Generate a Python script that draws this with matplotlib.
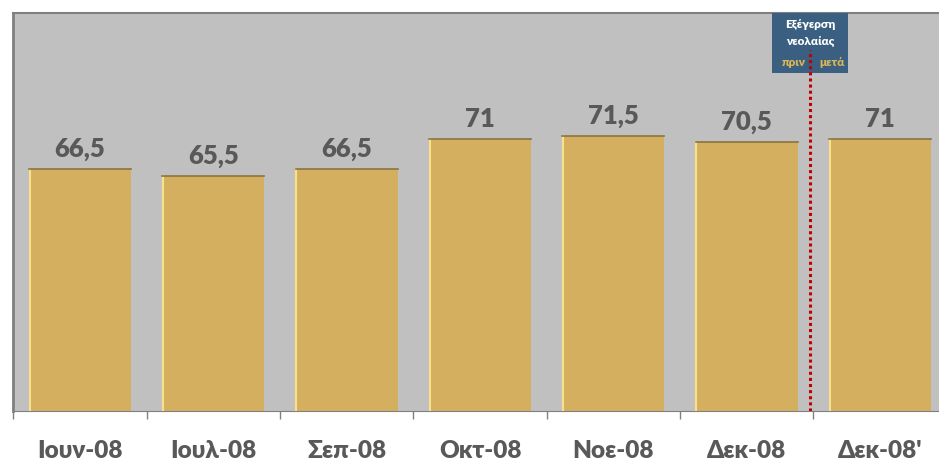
import matplotlib
matplotlib.use("Agg")
import matplotlib.pyplot as plt
from matplotlib.patches import Rectangle

categories = ["Ιουν-08", "Ιουλ-08", "Σεπ-08", "Οκτ-08", "Νοε-08", "Δεκ-08", "Δεκ-08'"]
values = [66.5, 65.5, 66.5, 71, 71.5, 70.5, 71]
value_labels = ["66,5", "65,5", "66,5", "71", "71,5", "70,5", "71"]

plt.rcParams['font.family'] = ['Lato', 'DejaVu Sans']

W, H = 939, 466
fig = plt.figure(figsize=(W / 100, H / 100), dpi=100)
ax = fig.add_axes([13.3 / W, 55 / H, (946.7 - 13.3) / W, (411 - 13) / H])
ax.set_facecolor('#C0C0C0')

x = list(range(len(categories)))
bars = ax.bar(x, values, width=0.765, color='#D4AF5F', edgecolor='none', zorder=2)
for b in bars:
    ax.plot([b.get_x() + 0.005, b.get_x() + 0.005], [30, b.get_height()],
            color='#FBE08A', lw=1.5, zorder=3)
    ax.plot([b.get_x(), b.get_x() + b.get_width()], [b.get_height()] * 2,
            color='#8A7440', lw=1.2, zorder=3)

for xi, v, lab in zip(x, values, value_labels):
    ax.text(xi, v + 1.2, lab, ha='center', va='bottom', fontsize=18.5,
            fontweight='heavy', color='#595959')

ax.set_ylim(30, 90)
ax.set_xlim(-0.5, len(categories) - 0.5)
ax.set_yticks([])
ax.set_xticks([i + 0.5 for i in range(-1, len(categories))], minor=False)
ax.set_xticklabels([])
ax.tick_params(axis='x', length=6, color='#808080', width=1)
ax.set_xticks(x, minor=True)
ax.set_xticklabels(categories, minor=True)
ax.tick_params(axis='x', which='minor', length=0, pad=21, labelsize=17.5,
               labelcolor='#595959')
for t in ax.get_xticklabels(minor=True):
    t.set_fontweight('heavy')

ax.spines['right'].set_visible(False)
ax.spines['bottom'].set_color('#808080')
ax.spines['left'].set_color('#808080')
ax.spines['left'].set_linewidth(2)
ax.spines['top'].set_color('#808080')
ax.spines['top'].set_linewidth(1.5)

# annotation box
cx = 5.477
bw = 0.57
box = Rectangle((cx - bw / 2, 80.95), bw, 9.05, facecolor='#3A5F80',
                edgecolor='none', zorder=4)
ax.add_patch(box)
ax.plot([cx, cx], [30, 84.4], color='#C00000', lw=2.2, ls=(0, (1, 1)),
        solid_capstyle='butt', dash_capstyle='butt', zorder=5)
ax.text(cx, 88.2, "Εξέγερση", ha='center', va='center', fontsize=8.5,
        fontweight='heavy', color='white', zorder=6)
ax.text(cx, 85.9, "νεολαίας", ha='center', va='center', fontsize=8.5,
        fontweight='heavy', color='white', zorder=6)
ax.text(5.35, 82.5, "πριν", ha='center', va='center', fontsize=8.5,
        fontweight='heavy', color='#D9B655', zorder=6)
ax.text(5.64, 82.5, "μετά", ha='center', va='center', fontsize=8.5,
        fontweight='heavy', color='#D9B655', zorder=6)

fig.savefig('out.png', dpi=100)
